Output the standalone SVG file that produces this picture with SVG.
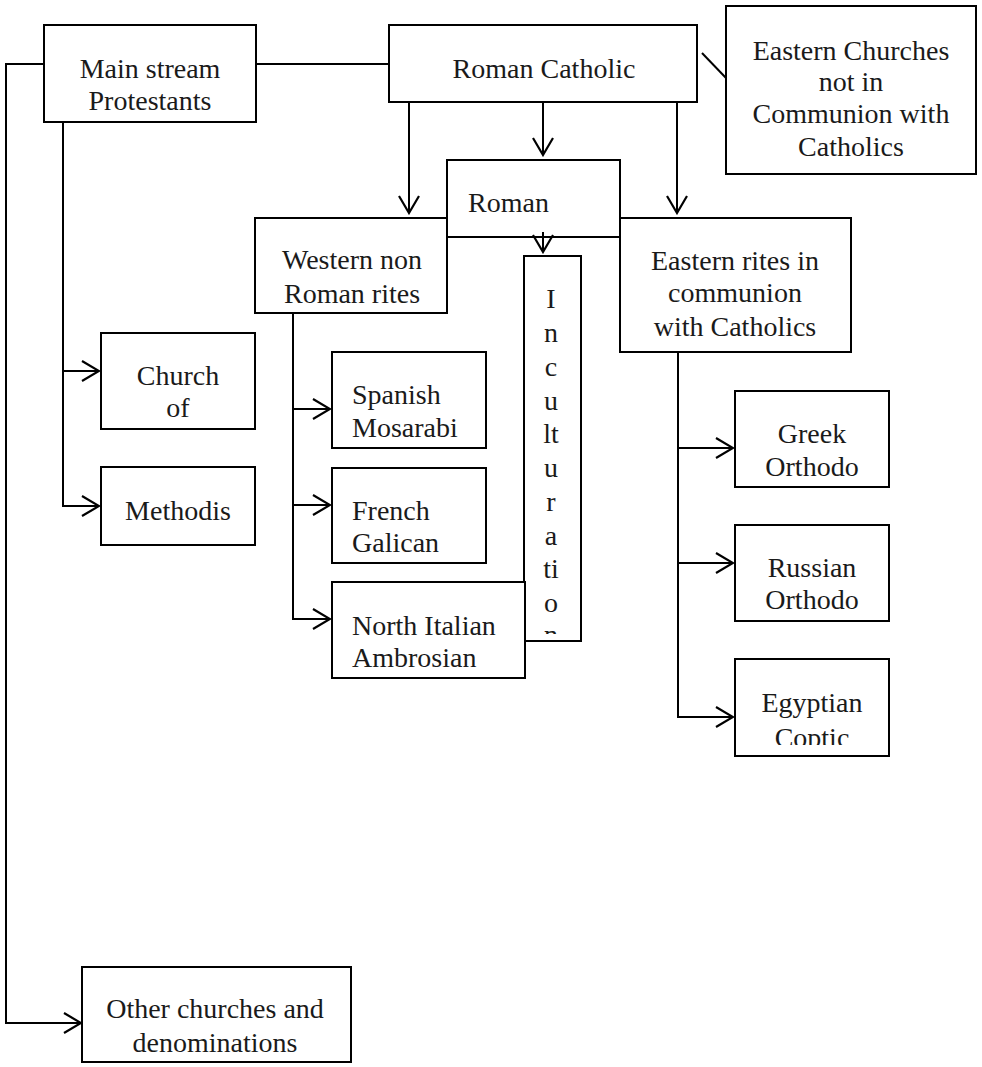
<svg xmlns="http://www.w3.org/2000/svg" width="982" height="1067" viewBox="0 0 982 1067">
<style>
.box{fill:#fff;stroke:#000;stroke-width:2}
.t{font-family:"Liberation Serif","Times New Roman",serif;font-size:28px;fill:#1a1a1a}
.c{text-anchor:middle}
.conn path{fill:none;stroke:#000;stroke-width:2}
</style>
<defs>
<marker id="arr" viewBox="0 0 20 22" refX="18" refY="11" markerWidth="20" markerHeight="22" markerUnits="userSpaceOnUse" orient="auto">
<path d="M1,1 L18,11 L1,21" fill="none" stroke="#000" stroke-width="2.2"/>
</marker>
<clipPath id="clipInc"><rect x="524" y="256" width="57" height="378"/></clipPath>
<clipPath id="clipCop"><rect x="735" y="659" width="154" height="86"/></clipPath>
</defs>
<g class="conn" id="connectors">
<path d="M44,64 H6 V1023 H81" marker-end="url(#arr)"/>
<path d="M256,64 H389"/>
<path d="M63,122 V506 H99" marker-end="url(#arr)"/>
<path d="M63,371 H99" marker-end="url(#arr)"/>
<path d="M409,102 V213" marker-end="url(#arr)"/>
<path d="M543,102 V155" marker-end="url(#arr)"/>
<path d="M677,102 V213" marker-end="url(#arr)"/>
<path d="M702,53 L726,78"/>
<path d="M293,313 V619 H330" marker-end="url(#arr)"/>
<path d="M293,409 H330" marker-end="url(#arr)"/>
<path d="M293,505 H330" marker-end="url(#arr)"/>
<path d="M678,352 V717 H733" marker-end="url(#arr)"/>
<path d="M678,448 H733" marker-end="url(#arr)"/>
<path d="M678,563 H733" marker-end="url(#arr)"/>
</g>
<g id="protestants"><rect class="box" x="44" y="25" width="212" height="97"/>
<text class="t c" x="150" y="78">Main stream</text><text class="t c" x="150" y="110">Protestants</text></g>
<g id="roman-catholic"><rect class="box" x="389" y="25" width="308" height="77"/>
<text class="t c" x="544" y="78">Roman Catholic</text></g>
<g id="eastern-churches"><rect class="box" x="726" y="6" width="250" height="168"/>
<text class="t c" x="851" y="60">Eastern Churches</text><text class="t c" x="851" y="91">not in</text>
<text class="t c" x="851" y="123">Communion with</text><text class="t c" x="851" y="156">Catholics</text></g>
<g id="western"><rect class="box" x="255" y="218" width="192" height="95"/>
<text class="t c" x="352" y="269">Western non</text><text class="t c" x="352" y="303">Roman rites</text></g>
<g id="eastern-rites"><rect class="box" x="620" y="218" width="231" height="134"/>
<text class="t c" x="735" y="270">Eastern rites in</text><text class="t c" x="735" y="302">communion</text>
<text class="t c" x="735" y="336">with Catholics</text></g>
<g id="roman-rite"><rect class="box" x="447" y="160" width="173" height="77"/>
<text class="t" x="468" y="212">Roman</text></g>
<g class="conn"><path d="M543,232 V252" marker-end="url(#arr)"/></g>
<g id="inculturation"><rect class="box" x="524" y="256" width="57" height="385"/>
<g clip-path="url(#clipInc)">
<text class="t c" x="551" y="308">I</text><text class="t c" x="551" y="342">n</text>
<text class="t c" x="551" y="376">c</text><text class="t c" x="551" y="410">u</text>
<text class="t c" x="551" y="443">lt</text><text class="t c" x="551" y="477">u</text>
<text class="t c" x="551" y="511">r</text><text class="t c" x="551" y="545">a</text>
<text class="t c" x="551" y="578">ti</text><text class="t c" x="551" y="612">o</text>
<text class="t c" x="551" y="644">n</text></g></g>
<g id="church-of"><rect class="box" x="101" y="333" width="154" height="96"/>
<text class="t c" x="178" y="385">Church</text><text class="t c" x="178" y="417">of</text></g>
<g id="methodis"><rect class="box" x="101" y="467" width="154" height="78"/>
<text class="t c" x="178" y="520">Methodis</text></g>
<g id="spanish"><rect class="box" x="332" y="352" width="154" height="96"/>
<text class="t" x="352" y="404">Spanish</text><text class="t" x="352" y="437">Mosarabi</text></g>
<g id="french"><rect class="box" x="332" y="468" width="154" height="95"/>
<text class="t" x="352" y="520">French</text><text class="t" x="352" y="552">Galican</text></g>
<g id="north-italian"><rect class="box" x="332" y="582" width="193" height="96"/>
<text class="t" x="352" y="635">North Italian</text><text class="t" x="352" y="667">Ambrosian</text></g>
<g id="greek"><rect class="box" x="735" y="391" width="154" height="96"/>
<text class="t c" x="812" y="443">Greek</text><text class="t c" x="812" y="476">Orthodo</text></g>
<g id="russian"><rect class="box" x="735" y="525" width="154" height="96"/>
<text class="t c" x="812" y="577">Russian</text><text class="t c" x="812" y="609">Orthodo</text></g>
<g id="egyptian"><rect class="box" x="735" y="659" width="154" height="97"/>
<text class="t c" x="812" y="712">Egyptian</text>
<g clip-path="url(#clipCop)"><text class="t c" x="812" y="747">Coptic</text></g></g>
<g id="other"><rect class="box" x="82" y="967" width="269" height="95"/>
<text class="t c" x="215" y="1018">Other churches and</text><text class="t c" x="215" y="1052">denominations</text></g>
</svg>
